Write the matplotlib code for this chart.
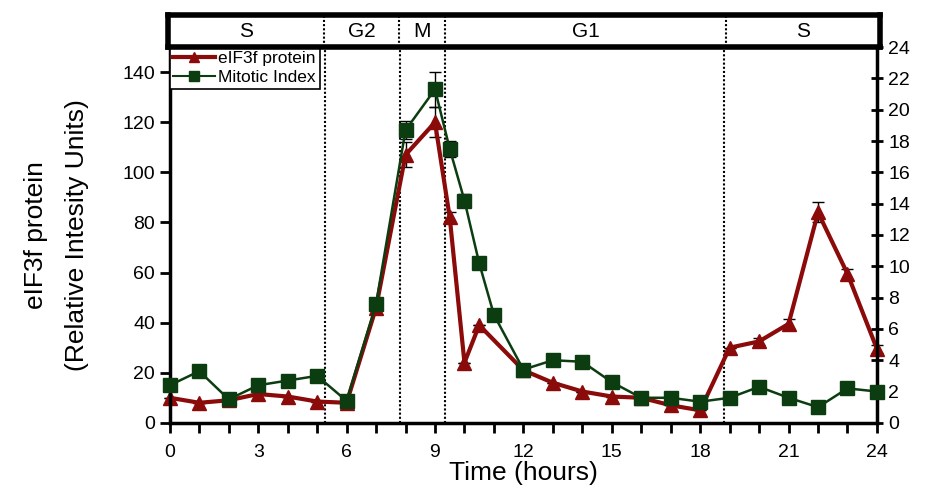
import matplotlib
matplotlib.use('Agg')
from matplotlib import pyplot as plt
from matplotlib.ticker import MultipleLocator
from matplotlib.lines import Line2D
import numpy as np

plt.rcParams['font.family'] = ['Liberation Sans', 'DejaVu Sans']

# hours sampled
hours = [0, 1, 2, 3, 4, 5, 6, 7, 8, 9, 9.5, 10, 10.5, 11, 12, 13, 14, 15, 16, 17, 18, 19, 20, 21, 22, 23, 24]

# eIF3f protein (left axis), NaN where no point
protein = [10, 8, 9, 11.5, 10.5, 8.5, 8, 46, 107, 120, 82, 24, 39, np.nan, 21, 16, 12.5, 10.5, 10, 7, 5, 30, 32.5, 39.5, 84, 59.5, 29.5]
protein_err = [0, 0, 0, 0, 0, 0, 0, 0, 5, 6, 2, 0, 0, 0, 0, 0, 0, 0, 0, 0, 0, 0, 1.5, 2, 4, 2, 1.5]

# mitotic index (right axis)
mitotic = [2.4, 3.3, 1.5, 2.4, 2.7, 3.0, 1.4, 7.6, 18.7, 21.3, 17.5, 14.2, 10.2, 6.9, 3.4, 4.0, 3.9, 2.6, 1.6, 1.6, 1.35, 1.6, 2.3, 1.6, 1.0, 2.2, 2.0]
mitotic_err = [0, 0, 0, 0, 0, 0, 0, 0, 0.6, 1.1, 0.5, 0.4, 0.3, 0, 0, 0, 0, 0, 0, 0, 0, 0, 0, 0, 0, 0, 0]

# cell cycle phases
phase_edges = [0, 5.25, 7.8, 9.35, 18.8, 24]
phase_names = ['S', 'G2', 'M', 'G1', 'S']

red = '#8b0a0a'
green = '#0b3d10'

fig = plt.figure(figsize=(9.28, 4.86), dpi=100)
ax = fig.add_axes([0.183, 0.130, 0.762, 0.773])
ax2 = ax.twinx()

h = np.array(hours)
p = np.array(protein)
ok = ~np.isnan(p)
e1 = ax.errorbar(h[ok], p[ok], yerr=np.array(protein_err)[ok], color=red, lw=3,
                 marker='^', ms=10, capsize=4, elinewidth=1, ecolor='black', zorder=3)
e2 = ax2.errorbar(hours, mitotic, yerr=mitotic_err, color=green, lw=1.8,
                  marker='s', ms=10, capsize=4, elinewidth=1, ecolor='black', zorder=3)
for art in [e1, e2]:
    for a in art.get_children():
        a.set_clip_on(False)

for e in phase_edges[1:-1]:
    ax.axvline(e, color='black', ls=(0, (1, 1)), lw=1.5, zorder=1)

ax.set_xlim(0, 24)
ax.set_ylim(0, 150)
ax2.set_ylim(0, 24)
ax.xaxis.set_major_locator(MultipleLocator(3))
ax.xaxis.set_minor_locator(MultipleLocator(1))
ax.set_yticks(np.arange(0, 141, 20))
ax2.set_yticks(np.arange(0, 25, 2))

for s in ['left', 'bottom', 'right']:
    ax2.spines[s].set_linewidth(2.5)
ax2.spines['top'].set_visible(False)
ax.spines['top'].set_visible(False)

ax.tick_params(axis='both', which='both', labelsize=14, width=2, length=7, direction='out')
ax.tick_params(axis='x', which='both', pad=8)
ax2.tick_params(axis='y', labelsize=14, width=2, length=9, direction='inout')

ax.set_xlabel('Time (hours)', fontsize=19, labelpad=0)
ax.set_ylabel('eIF3f protein\n(Relative Intesity Units)', fontsize=19,
              labelpad=24, linespacing=1.9)

# legend
handles = [Line2D([], [], color=red, lw=3, marker='^', ms=7),
           Line2D([], [], color=green, lw=1.5, marker='s', ms=7)]
leg = ax2.legend(handles, ['eIF3f protein', 'Mitotic Index'], loc='upper left',
                 bbox_to_anchor=(0.0, 1.0), fontsize=12.5, fancybox=False,
                 framealpha=1, edgecolor='black', borderaxespad=0,
                 handlelength=2.4, borderpad=0.2, labelspacing=0.25,
                 handletextpad=0.2)
leg.get_frame().set_linewidth(1.2)

# phase bar on top
pax = fig.add_axes([0.181, 0.903, 0.767, 0.066])
pax.set_xlim(0, 24)
pax.set_ylim(0, 1)
pax.set_xticks([])
pax.set_yticks([])
for s in pax.spines.values():
    s.set_linewidth(4)
for e in phase_edges[1:-1]:
    pax.axvline(e, color='black', ls=(0, (1, 1)), lw=1.5)
for i, name in enumerate(phase_names):
    pax.text((phase_edges[i] + phase_edges[i + 1]) / 2, 0.5, name,
             ha='center', va='center', fontsize=15)

fig.savefig('out.png', dpi=100)
